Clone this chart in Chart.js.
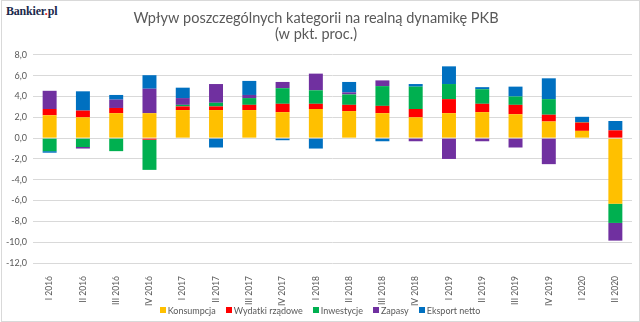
<!DOCTYPE html>
<html>
<head>
<meta charset="utf-8">
<script src="https://cdn.jsdelivr.net/npm/chart.js@4/dist/chart.umd.min.js"></script>
<style>
  body { margin: 0; background: #fff; }
  #wrap { position: relative; width: 640px; height: 322px; }
  #frame { position: absolute; left: 1px; top: 0; width: 637px; height: 320px; border: 1px solid #d9d9d9; }
  #logo { position: absolute; left: 4px; top: 3px; padding: 1px 2px; background: #fff;
    font: bold 12px "Liberation Serif", serif; color: #1b2a4c; letter-spacing: -0.2px; }
  #logo span { color: #e0201b; }
  #legenda { position: absolute; left: 0; width: 640px; top: 303px; height: 14px;
    display: flex; justify-content: center; align-items: center;
    font: 9px Lato, sans-serif; color: #595959; }
  #legenda .poz { display: flex; align-items: center; margin: 0 5px; }
  #legenda .kw { width: 6px; height: 6px; margin-right: 2px; }
</style>
</head>
<body>
<div id="wrap">
  <div id="frame"></div>
  <canvas id="mycanvas" width="640" height="322"></canvas>
  <div id="logo">Bankier<span>.</span>pl</div>
  <div id="legenda"></div>
</div>
<script>
var kwartaly = ["I 2016", "II 2016", "III 2016", "IV 2016", "I 2017", "II 2017", "III 2017", "IV 2017",
  "I 2018", "II 2018", "III 2018", "IV 2018", "I 2019", "II 2019", "III 2019", "IV 2019", "I 2020", "II 2020"];

var Konsumpcja = [2.2, 2.0, 2.4, 2.4, 2.7, 2.7, 2.7, 2.5, 2.8, 2.6, 2.4, 2.0, 2.4, 2.5, 2.3, 1.6, 0.7, -6.3];
var Wydatki = [0.6, 0.65, 0.5, -0.15, 0.35, 0.35, 0.5, 0.8, 0.5, 0.6, 0.7, 0.8, 1.35, 0.8, 0.9, 0.65, 0.8, 0.75];
var Inwestycje = [-1.25, -0.85, -1.25, -2.9, 0.15, 0.35, 0.65, 1.5, 1.3, 1.0, 1.9, 2.15, 1.45, 1.4, 0.8, 1.5, 0.05, -1.85];
var Zapasy = [1.75, -0.15, 0.8, 2.35, 0.65, 1.8, 0.3, 0.6, 1.6, 0.2, 0.55, -0.3, -2.0, -0.3, -0.9, -2.5, 0, -1.7];
var Eksport = [-0.15, 1.85, 0.45, 1.3, 1.0, -0.9, 1.35, -0.2, -1.0, 1.0, -0.3, 0.25, 1.7, 0.2, 0.95, 2.0, 0.5, 0.9];

var yTicks = [8, 6, 4, 2, 0, -2, -4, -6, -8, -10, -12];

var szary = "#595959";

function seria(label, data, kolor) {
  return { label: label, data: data, backgroundColor: kolor, borderWidth: 0,
    barPercentage: 1, categoryPercentage: 0.42 };
}

var chartdata = {
  labels: kwartaly,
  datasets: [
    seria("Konsumpcja", Konsumpcja, "#ffc000"),
    seria("Wydatki rządowe", Wydatki, "#ff0000"),
    seria("Inwestycje", Inwestycje, "#00b050"),
    seria("Zapasy", Zapasy, "#7030a0"),
    seria("Eksport netto", Eksport, "#0070c0")
  ]
};

var ctx = document.getElementById("mycanvas");

var wykres = new Chart(ctx, {
  type: "bar",
  data: chartdata,
  options: {
    responsive: false,
    animation: false,
    layout: { padding: { left: 0, right: 8, top: 0, bottom: 0 } },
    plugins: {
      title: {
        display: true,
        text: ["Wpływ poszczególnych kategorii na realną dynamikę PKB", "(w pkt. proc.)"],
        color: szary,
        font: { family: "Lato", size: 14.5, weight: "normal", lineHeight: 1.1 },
        padding: { top: 10, bottom: 13 }
      },
      // legenda rysowana niżej w HTML, pod etykietami osi X
      legend: { display: false },
      tooltip: { enabled: false }
    },
    scales: {
      x: {
        stacked: true,
        grid: { display: false },
        border: { display: false },
        ticks: { color: szary, font: { family: "Lato", size: 8.5 }, minRotation: 90, maxRotation: 90, padding: 5 },
        afterFit: function(scale) { scale.height = 59; }
      },
      y: {
        stacked: true,
        min: -12,
        max: 8,
        afterBuildTicks: function(scale) {
          scale.ticks = yTicks.map(function(v) { return { value: v }; });
        },
        grid: { color: "#d9d9d9", drawTicks: false },
        border: { display: false },
        ticks: {
          color: szary,
          font: { family: "Lato", size: 9 },
          padding: 6,
          callback: function(v) { return v.toFixed(1).replace(".", ","); }
        },
        afterFit: function(scale) { scale.width = 33; }
      }
    }
  }
});

var legenda = document.getElementById("legenda");
wykres.data.datasets.forEach(function(ds) {
  var poz = document.createElement("div");
  poz.className = "poz";
  var kw = document.createElement("div");
  kw.className = "kw";
  kw.style.background = ds.backgroundColor;
  poz.appendChild(kw);
  poz.appendChild(document.createTextNode(ds.label));
  legenda.appendChild(poz);
});
</script>
</body>
</html>
